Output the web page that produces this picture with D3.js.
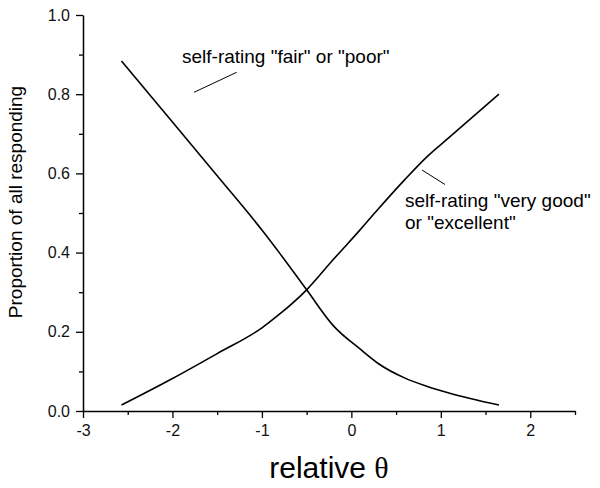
<!DOCTYPE html>
<html>
<head>
<meta charset="utf-8">
<script src="https://cdn.jsdelivr.net/npm/d3@7"></script>
<style>
    body { margin: 0; background: #fff; }
    svg { display: block; font-family: Arial, "Liberation Sans", sans-serif; }
</style>
</head>
<body>
<svg id="chart" width="600" height="488"></svg>
<script>
// values
const theta = [-2.57, -2.0, -1.5, -1.0, -0.8, -0.5, -0.2, 0.1, 0.3, 0.6, 0.85, 1.1, 1.65];
const fairPoor = [0.884, 0.73, 0.594, 0.457, 0.398, 0.306, 0.215, 0.156, 0.12, 0.083, 0.062, 0.045, 0.015];
const veryGoodExcellent = [0.015, 0.082, 0.145, 0.21, 0.245, 0.306, 0.383, 0.458, 0.51, 0.585, 0.643, 0.692, 0.80];
const xTicks = [-3, -2, -1, 0, 1, 2];
const yTicks = [0, 0.2, 0.4, 0.6, 0.8, 1.0];

const svg = d3.select("#chart");
const plot = { left: 83, right: 575, top: 15, bottom: 411 };

const x = d3.scaleLinear().domain([-3, 2.5]).range([plot.left, plot.right]);
const y = d3.scaleLinear().domain([0, 1]).range([plot.bottom, plot.top]);

// minor ticks first, then the major axis on top
svg.append("g")
    .attr("transform", `translate(0,${plot.bottom})`)
    .call(d3.axisBottom(x).tickValues(d3.range(-2.5, 2.6, 1)).tickSize(4).tickFormat(""))
    .call(g => g.select(".domain").remove());
svg.append("g")
    .attr("transform", `translate(${plot.left},0)`)
    .call(d3.axisLeft(y).tickValues(d3.range(0.1, 1, 0.2)).tickSize(4).tickFormat(""))
    .call(g => g.select(".domain").remove());

// plain hyphen for negatives, like the original
const xAxis = svg.append("g")
    .attr("transform", `translate(0,${plot.bottom})`)
    .call(d3.axisBottom(x).tickValues(xTicks).tickSize(7).tickSizeOuter(0).tickPadding(7)
        .tickFormat(d => String(d)));
const yAxis = svg.append("g")
    .attr("transform", `translate(${plot.left},0)`)
    .call(d3.axisLeft(y).tickValues(yTicks).tickSize(7).tickSizeOuter(0).tickPadding(6)
        .tickFormat(d3.format(".1f")));

svg.selectAll(".tick line").attr("stroke", "#000").attr("stroke-width", 1.3);
svg.selectAll(".domain").attr("stroke", "#000").attr("stroke-width", 1.5);
[xAxis, yAxis].forEach(g => g.selectAll("text")
    .attr("font-family", "Arial, 'Liberation Sans', sans-serif")
    .attr("font-size", 16)
    .attr("fill", "#111"));

const line = d3.line()
    .x((d, i) => x(theta[i]))
    .y(d => y(d))
    .curve(d3.curveMonotoneX);

[fairPoor, veryGoodExcellent].forEach(series => {
    svg.append("path")
        .datum(series)
        .attr("fill", "none")
        .attr("stroke", "#000")
        .attr("stroke-width", 1.6)
        .attr("d", line);
});

// annotations
svg.append("text")
    .attr("x", 182).attr("y", 63)
    .attr("font-size", 19)
    .text('self-rating "fair" or "poor"');
svg.append("line")
    .attr("x1", 236.7).attr("y1", 72.3).attr("x2", 194).attr("y2", 92.3)
    .attr("stroke", "#000").attr("stroke-width", 1);

svg.append("text")
    .attr("x", 405).attr("y", 207)
    .attr("font-size", 19)
    .text('self-rating "very good"');
svg.append("text")
    .attr("x", 405).attr("y", 229)
    .attr("font-size", 19)
    .text('or "excellent"');
svg.append("line")
    .attr("x1", 422).attr("y1", 170).attr("x2", 445).attr("y2", 184.5)
    .attr("stroke", "#000").attr("stroke-width", 1);

// axis titles
svg.append("text")
    .attr("transform", "translate(22,202) rotate(-90)")
    .attr("text-anchor", "middle")
    .attr("font-size", 19)
    .text("Proportion of all responding");

const xTitle = svg.append("text")
    .attr("x", 329).attr("y", 478)
    .attr("text-anchor", "middle")
    .attr("font-size", 30);
xTitle.append("tspan").text("relative ");
xTitle.append("tspan")
    .attr("font-family", "'Liberation Serif', 'DejaVu Serif', serif")
    .text("θ");
</script>
</body>
</html>
